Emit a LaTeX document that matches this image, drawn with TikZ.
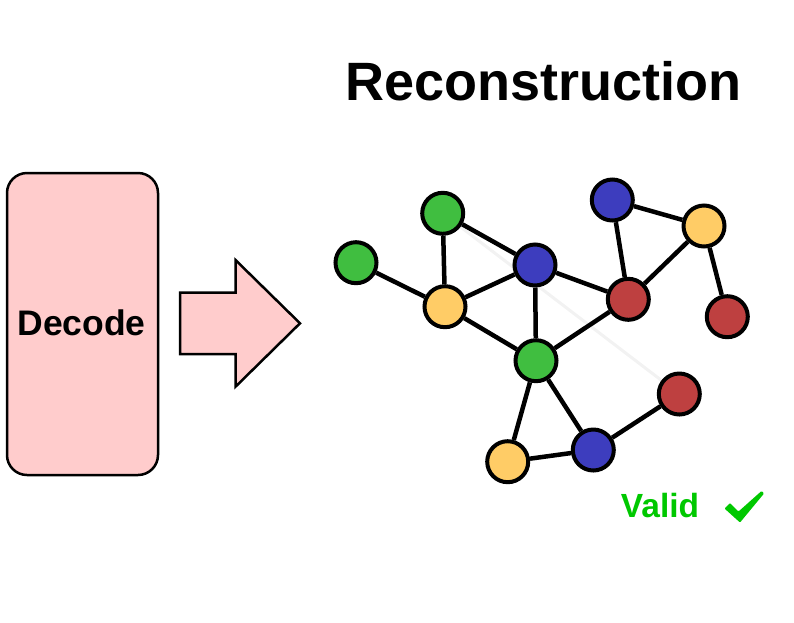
\documentclass[tikz,border=0pt]{standalone}
\usepackage{fontspec}
\setmainfont{Liberation Sans}
\definecolor{ngreen}{RGB}{64,190,64}
\definecolor{nblue}{RGB}{61,61,190}
\definecolor{nyellow}{RGB}{255,204,102}
\definecolor{nred}{RGB}{190,64,64}
\definecolor{pinkfill}{RGB}{255,204,204}
\definecolor{validgreen}{RGB}{0,200,0}
\tikzset{
  gnode/.style={circle, draw=black, line width=4pt, minimum size=41pt, inner sep=0pt},
  gedge/.style={line width=4.5pt, black},
  faintedge/.style={line width=3pt, black!5},
}
\begin{document}
\begin{tikzpicture}[x=1pt,y=-1pt]
\useasboundingbox (0,0) rectangle (794,622);
% title
\node[anchor=base, font=\bfseries\fontsize{54}{60}\selectfont] (title) at (543.5,100) {Reconstruction};
% decode box
\node[draw=black, line width=2.5pt, fill=pinkfill, rounded corners=20pt, minimum width=151pt, minimum height=302pt, inner sep=0pt] (decode) at (82.5,324) {};
\node[anchor=base, font=\bfseries\fontsize{35.5}{40}\selectfont] (decodetxt) at (81.5,335) {Decode};
% big arrow
\draw[line width=2.5pt, fill=pinkfill, line join=miter] (180,292.7) -- (235.5,292.7) -- (235.5,260) -- (300,323.3) -- (235.5,386.7) -- (235.5,354) -- (180,354) -- cycle;
% graph nodes
\coordinate (pG1) at (442.7,213.3);
\coordinate (pR3) at (679.3,394);
\draw[faintedge] (pG1) -- (pR3);
\node[gnode, fill=ngreen] (G1) at (pG1) {};
\node[gnode, fill=ngreen] (G2) at (356,262.7) {};
\node[gnode, fill=nyellow] (Y1) at (445,306.7) {};
\node[gnode, fill=nblue] (B1) at (535,265) {};
\node[gnode, fill=ngreen] (G3) at (536,360.7) {};
\node[gnode, fill=nred] (R1) at (628.3,299.3) {};
\node[gnode, fill=nblue] (B2) at (612.3,200) {};
\node[gnode, fill=nyellow] (Y2) at (704,226) {};
\node[gnode, fill=nred] (R2) at (727.3,316.7) {};
\node[gnode, fill=nred] (R3) at (pR3) {};
\node[gnode, fill=nblue] (B3) at (593.3,450) {};
\node[gnode, fill=nyellow] (Y3) at (507.7,461.7) {};
\foreach \a/\b in {G1/Y1, G1/B1, G2/Y1, Y1/B1, Y1/G3, B1/G3, B1/R1, G3/R1, B2/R1, B2/Y2, Y2/R1, Y2/R2, G3/Y3, G3/B3, Y3/B3, B3/R3}
  \draw[gedge] (\a) -- (\b);
% valid
\node[anchor=base, text=validgreen, font=\bfseries\fontsize{33.5}{40}\selectfont] (valid) at (660,517.3) {Valid};
\fill[validgreen, rounded corners=0.8pt] (724.5,508.5) -- (730,503) -- (738.5,511.5) -- (761.5,491) -- (764,493.5) -- (740,522.5) -- cycle;
\end{tikzpicture}
\end{document}
